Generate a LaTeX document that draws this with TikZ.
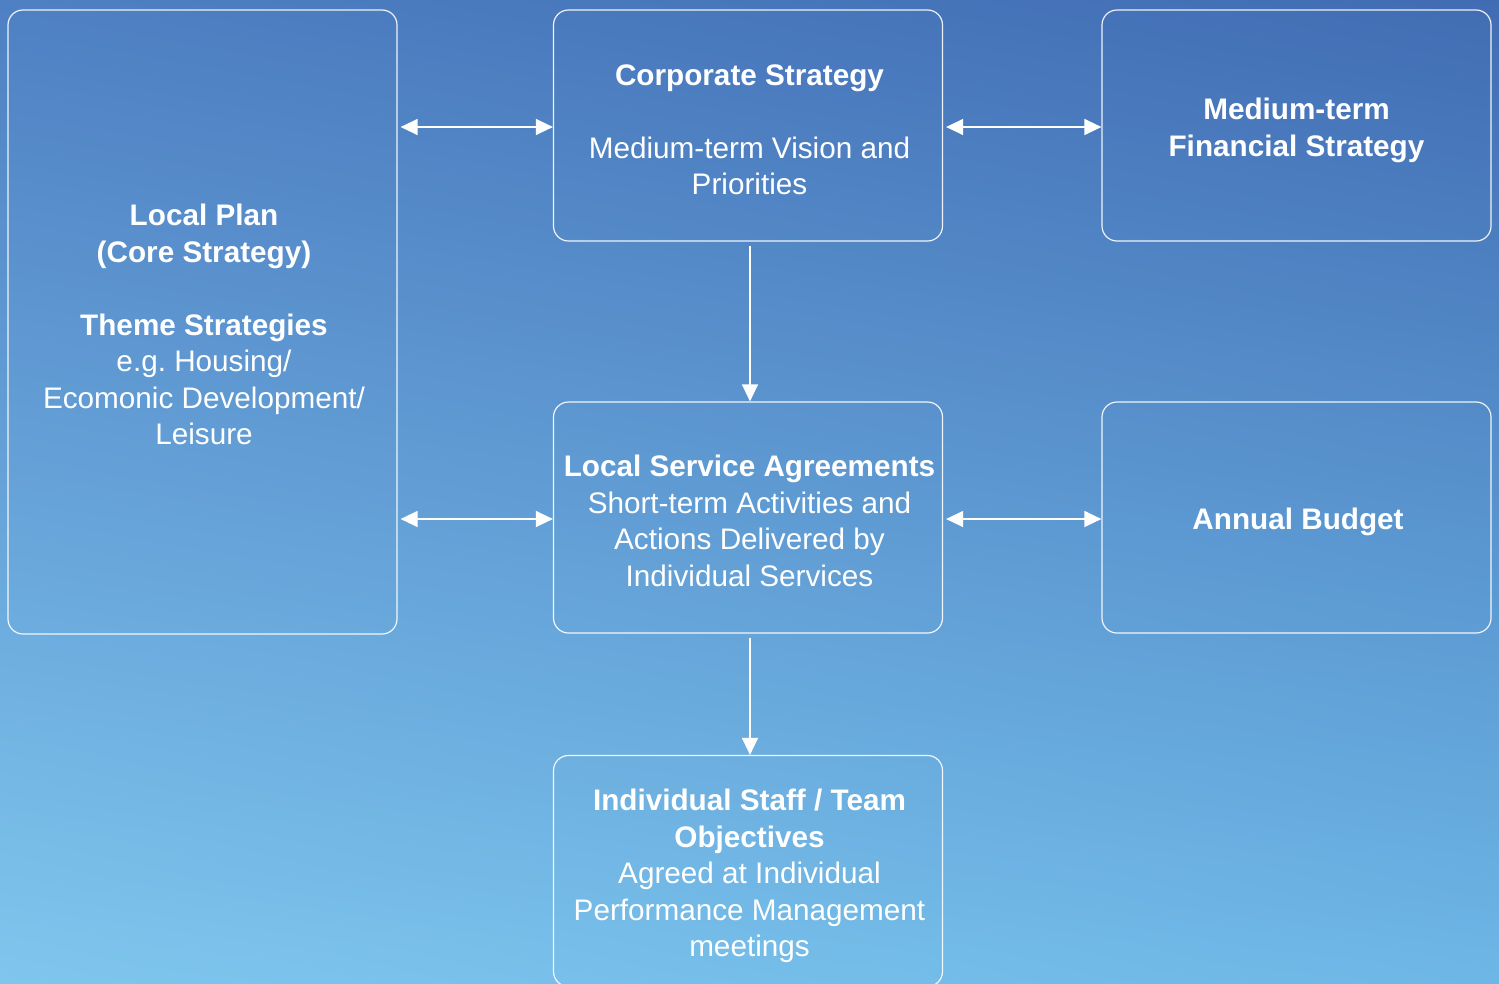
\documentclass[tikz,border=0pt]{standalone}
\usepackage{fontspec}
\setmainfont{Liberation Sans}
\usetikzlibrary{arrows.meta,shadings}
\frenchspacing
\definecolor{bgUL}{HTML}{4E80C3}
\definecolor{bgUR}{HTML}{416CB3}
\definecolor{bgLL}{HTML}{7FC6EE}
\definecolor{bgLR}{HTML}{6DB7E6}
\tikzset{
  box/.style={draw=white, draw opacity=0.9, line width=1.2pt, rounded corners=15pt,
    minimum width=389pt, minimum height=231pt, inner sep=0pt},
  boxtext/.style={inner sep=0pt, align=center, text=white,
    font=\fontsize{29.7pt}{36.5pt}\selectfont},
  link/.style={draw=white, line width=1.3pt,
    -{Triangle[length=17pt,width=16pt,fill=white]}},
  dlink/.style={draw=white, line width=1.3pt,
    {Triangle[length=17pt,width=16pt,fill=white]}-{Triangle[length=17pt,width=16pt,fill=white]}}
}
\begin{document}
\begin{tikzpicture}[x=1pt,y=-1pt]
\useasboundingbox (0,0) rectangle (1499,983);
\clip (0,0) rectangle (1499,983);
\shade[upper left=bgUL, upper right=bgUR, lower left=bgLL, lower right=bgLR] (0,0) rectangle (1499,983);

\node[box, minimum height=624pt] (lp) at (202.5,322) {};
\node[box] (cs) at (748,125.5) {};
\node[box] (mt) at (1296.5,125.5) {};
\node[box] (lsa) at (748,517.5) {};
\node[box] (ab) at (1296.5,517.5) {};
\node[box] (ind) at (748,871) {};

\node[boxtext] (lp-t) at ([xshift=1.5pt,yshift=-2.5pt]lp.center) {\textbf{Local Plan}\\\textbf{(Core Strategy)}\\[36.5pt]\textbf{Theme Strategies}\\e.g. Housing/\\Ecomonic Development/\\Leisure};
\node[boxtext] (cs-t) at ([xshift=1.5pt,yshift=-4.5pt]cs.center) {\textbf{Corporate Strategy}\\[36.5pt]Medium-term Vision and\\Priorities};
\node[boxtext] (mt-t) at ([yshift=-5pt]mt.center) {\textbf{Medium-term}\\\textbf{Financial Strategy}};
\node[boxtext] (lsa-t) at ([xshift=1.5pt,yshift=-3.5pt]lsa.center) {\textbf{Local Service Agreements}\\Short-term Activities and\\Actions Delivered by\\Individual Services};
\node[boxtext] (ab-t) at ([xshift=1.5pt,yshift=-4pt]ab.center) {\textbf{Annual Budget}};
\node[boxtext] (ind-t) at ([xshift=1.5pt,yshift=-5pt]ind.center) {\textbf{Individual Staff / Team}\\\textbf{Objectives}\\Agreed at Individual\\Performance Management\\meetings};

\draw[dlink, shorten <=3pt] (lp.east |- 0,127) -- (cs.west |- 0,127);
\draw[dlink, shorten <=3pt] (cs.east |- 0,127) -- (mt.west |- 0,127);
\draw[dlink, shorten <=3pt] (lp.east |- 0,519) -- (lsa.west |- 0,519);
\draw[dlink, shorten <=3pt] (lsa.east |- 0,519) -- (ab.west |- 0,519);
\draw[link, shorten <=4pt] (cs.south -| 750,0) -- (lsa.north -| 750,0);
\draw[link, shorten <=4pt] (lsa.south -| 750,0) -- (ind.north -| 750,0);
\end{tikzpicture}
\end{document}
